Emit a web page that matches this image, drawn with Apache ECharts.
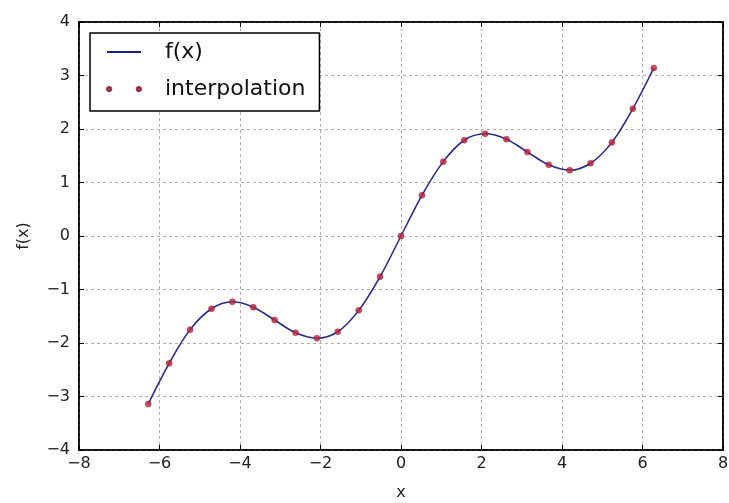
<!DOCTYPE html>
<html><head><meta charset="utf-8">
<script src="https://cdn.jsdelivr.net/npm/echarts@6/dist/echarts.min.js"></script>
<style>html,body{margin:0;padding:0;background:#fff}#c{width:729px;height:503px}</style>
</head><body><div id="c"></div>
<script>
// sample positions (x) and read-off values
const xs = [-6.28,-5.76,-5.24,-4.71,-4.19,-3.67,-3.14,-2.62,-2.09,-1.57,-1.05,-0.52,0,0.52,1.05,1.57,2.09,2.62,3.14,3.67,4.19,4.71,5.24,5.76,6.28];
const fx = [-3.14,-2.38,-1.75,-1.36,-1.23,-1.33,-1.57,-1.81,-1.91,-1.79,-1.39,-0.76,0,0.76,1.39,1.79,1.91,1.81,1.57,1.33,1.23,1.36,1.75,2.38,3.14];
const interp = [-3.14,-2.38,-1.75,-1.36,-1.23,-1.33,-1.57,-1.81,-1.91,-1.79,-1.39,-0.76,0,0.76,1.39,1.79,1.91,1.81,1.57,1.33,1.23,1.36,1.75,2.38,3.14];
const xTicks = [-8,-6,-4,-2,0,2,4,6,8];
const yTicks = [-4,-3,-2,-1,0,1,2,3,4];

const font = 'DejaVu Sans';
const minus = v => String(v).replace('-', '\u2212');
const lineData = xs.map((x,i)=>[x,fx[i]]);
const ptData = xs.map((x,i)=>[x,interp[i]]);

const chart = echarts.init(document.getElementById('c'));
const tick = {show:true, inside:true, length:5, lineStyle:{color:'#000', width:1}};
chart.setOption({
  animation:false,
  backgroundColor:'#fff',
  grid:{left:79, right:6, top:22, bottom:53, show:true, borderColor:'#000', borderWidth:1.5,
        backgroundColor:'transparent', containLabel:false, outerBoundsMode:'none'},
  xAxis:[{
    type:'value', min:xTicks[0], max:xTicks[xTicks.length-1], interval:2,
    name:'x', nameLocation:'middle', nameGap:35, nameTextStyle:{fontFamily:font, fontSize:16, color:'#222'},
    axisLine:{show:true, onZero:false, lineStyle:{color:'#000', width:1.5}},
    axisTick:tick,
    axisLabel:{fontFamily:font, fontSize:16, color:'#222', margin:6, formatter:minus},
    splitLine:{show:true, lineStyle:{color:'#b0b0b0', type:[3,3], width:1}}
  },{
    type:'value', position:'top', min:-8, max:8, interval:2,
    axisLine:{show:true, onZero:false, lineStyle:{color:'#000', width:1.5}},
    axisTick:tick, axisLabel:{show:false}, splitLine:{show:false}
  }],
  yAxis:[{
    type:'value', min:yTicks[0], max:yTicks[yTicks.length-1], interval:1,
    name:'f(x)', nameLocation:'middle', nameGap:47, nameRotate:90,
    nameTextStyle:{fontFamily:font, fontSize:16, color:'#222'},
    axisLine:{show:true, onZero:false, lineStyle:{color:'#000', width:1.5}},
    axisTick:tick,
    axisLabel:{fontFamily:font, fontSize:16, color:'#222', margin:9, formatter:minus},
    splitLine:{show:true, lineStyle:{color:'#b0b0b0', type:[3,3], width:1}}
  },{
    type:'value', position:'right', min:-4, max:4, interval:1,
    axisLine:{show:true, onZero:false, lineStyle:{color:'#000', width:1.5}},
    axisTick:tick, axisLabel:{show:false}, splitLine:{show:false}
  }],
  legend:{
    orient:'vertical', left:90, top:33,
    backgroundColor:'#fff', borderColor:'#000', borderWidth:1.5,
    padding:[6,14,9,16], itemGap:11, itemWidth:34, itemHeight:6,
    textStyle:{fontFamily:font, fontSize:22, color:'#111', lineHeight:26, padding:[0,0,0,19]},
    data:[
      {name:'f(x)', icon:'path://M0,2.1L34,2.1L34,3.9L0,3.9Z', itemStyle:{color:'#1e1e80', opacity:1}},
      {name:'interpolation', icon:'path://M1,3a2,2 0 1,0 4,0a2,2 0 1,0 -4,0Z M29,3a2,2 0 1,0 4,0a2,2 0 1,0 -4,0Z', itemStyle:{color:'#c0203a'}}
    ]
  },
  series:[
    {name:'f(x)', type:'line', data:lineData, smooth:0.35, showSymbol:false, symbol:'none',
     lineStyle:{color:'#2a2a8c', width:1.6}, itemStyle:{color:'#1e1e80'}, z:2},
    {name:'interpolation', type:'scatter', data:ptData, symbol:'circle', symbolSize:6,
     itemStyle:{color:'#c0203a', borderColor:'#7a1030', borderWidth:0.5}, z:3}
  ]
});
</script></body></html>
